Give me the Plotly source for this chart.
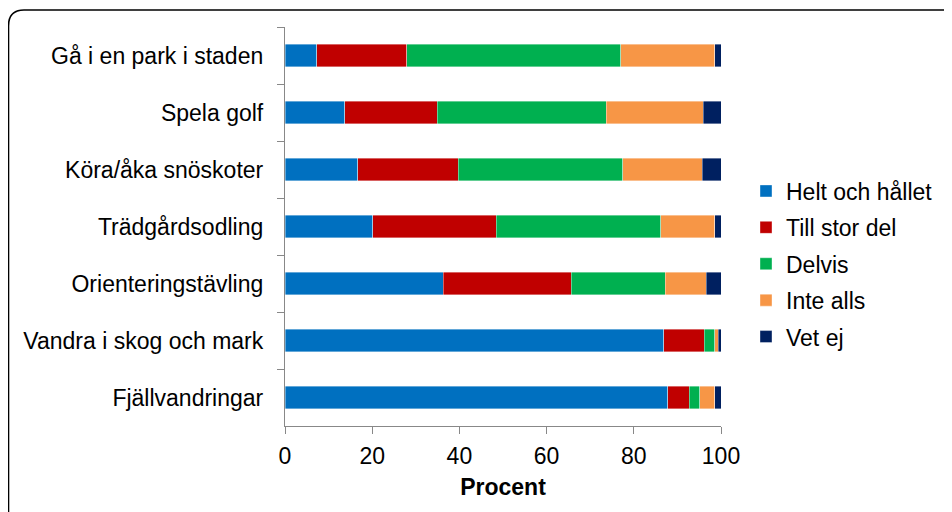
import plotly.graph_objects as go

categories = ["Gå i en park i staden", "Spela golf", "Köra/åka snöskoter",
              "Trädgårdsodling", "Orienteringstävling", "Vandra i skog och mark",
              "Fjällvandringar"]
series_names = ["Helt och hållet", "Till stor del", "Delvis", "Inte alls", "Vet ej"]
helt = [7.3, 13.7, 16.7, 20.1, 36.3, 86.9, 87.8]
till_stor = [20.6, 21.2, 23.0, 28.4, 29.3, 9.2, 4.9]
delvis = [49.1, 38.8, 37.8, 37.7, 21.6, 2.5, 2.4]
inte_alls = [21.6, 22.2, 18.2, 12.4, 9.4, 0.8, 3.5]
vet_ej = [1.4, 4.1, 4.3, 1.4, 3.4, 0.6, 1.4]
x_ticks = [0, 20, 40, 60, 80, 100]

colors = ["#0070C0", "#C00000", "#00B050", "#F79646", "#002060"]
values = [helt, till_stor, delvis, inte_alls, vet_ej]

# page body adds an 8px offset; layout is expressed in screen pixels minus that offset
OFF = 8
W, H = 952, 512
ML, MT = 285 - OFF, 27 - OFF
MR = W - (721 - OFF)
MB = H - (426 - OFF)
PW, PH = W - ML - MR, H - MT - MB

def px(x):
    return (x - OFF - ML) / PW

def py(y):
    return (H - MB - (y - OFF)) / PH

FONT = "Liberation Sans, Arial, sans-serif"

fig = go.Figure()
for i, (name, vals, col) in enumerate(zip(series_names, values, colors)):
    fig.add_trace(go.Bar(
        y=categories, x=vals, name=name, orientation="h",
        marker=dict(color=col, line=dict(color="rgba(255,255,255,0.55)", width=0.7)),
        legendgroup=f"g{i}",
    ))

frame_path = (f"M {px(8.5)},{py(540)} L {px(8.5)},{py(26)} "
              f"Q {px(8.5)},{py(10)} {px(24)},{py(10)} L {px(970)},{py(10)}")

fig.update_layout(
    width=W, height=H,
    margin=dict(l=ML, r=MR, t=MT, b=MB),
    barmode="stack", bargap=0.6,
    plot_bgcolor="white", paper_bgcolor="white",
    font=dict(family=FONT, size=23, color="#000000"),
    showlegend=True,
    legend=dict(
        x=px(746), y=py(264), xanchor="left", yanchor="middle",
        traceorder="grouped", tracegroupgap=3.5,
        font=dict(size=23, family=FONT), itemwidth=30,
        bgcolor="rgba(0,0,0,0)",
    ),
    xaxis=dict(
        range=[0, 100], tickvals=x_ticks, ticks="outside", ticklen=7,
        tickcolor="#888888", tickwidth=1.3,
        showline=True, linecolor="#888888", linewidth=1.3,
        showgrid=False, zeroline=False,
        tickfont=dict(size=23, family=FONT),
        ticklabelstandoff=2,
        title=dict(text="<b>Procent</b>", font=dict(size=23, family=FONT), standoff=11),
    ),
    yaxis=dict(
        categoryorder="array", categoryarray=categories, autorange="reversed",
        ticks="outside", tickson="boundaries", ticklen=7,
        tickcolor="#888888", tickwidth=1.3,
        showline=True, linecolor="#888888", linewidth=1.3,
        showgrid=False, zeroline=False,
        tickfont=dict(size=23, family=FONT),
        ticklabelstandoff=16,
    ),
    shapes=[dict(type="path", path=frame_path, xref="paper", yref="paper",
                 line=dict(color="#000000", width=1.6), layer="above")],
)

fig.write_html("out.html")
